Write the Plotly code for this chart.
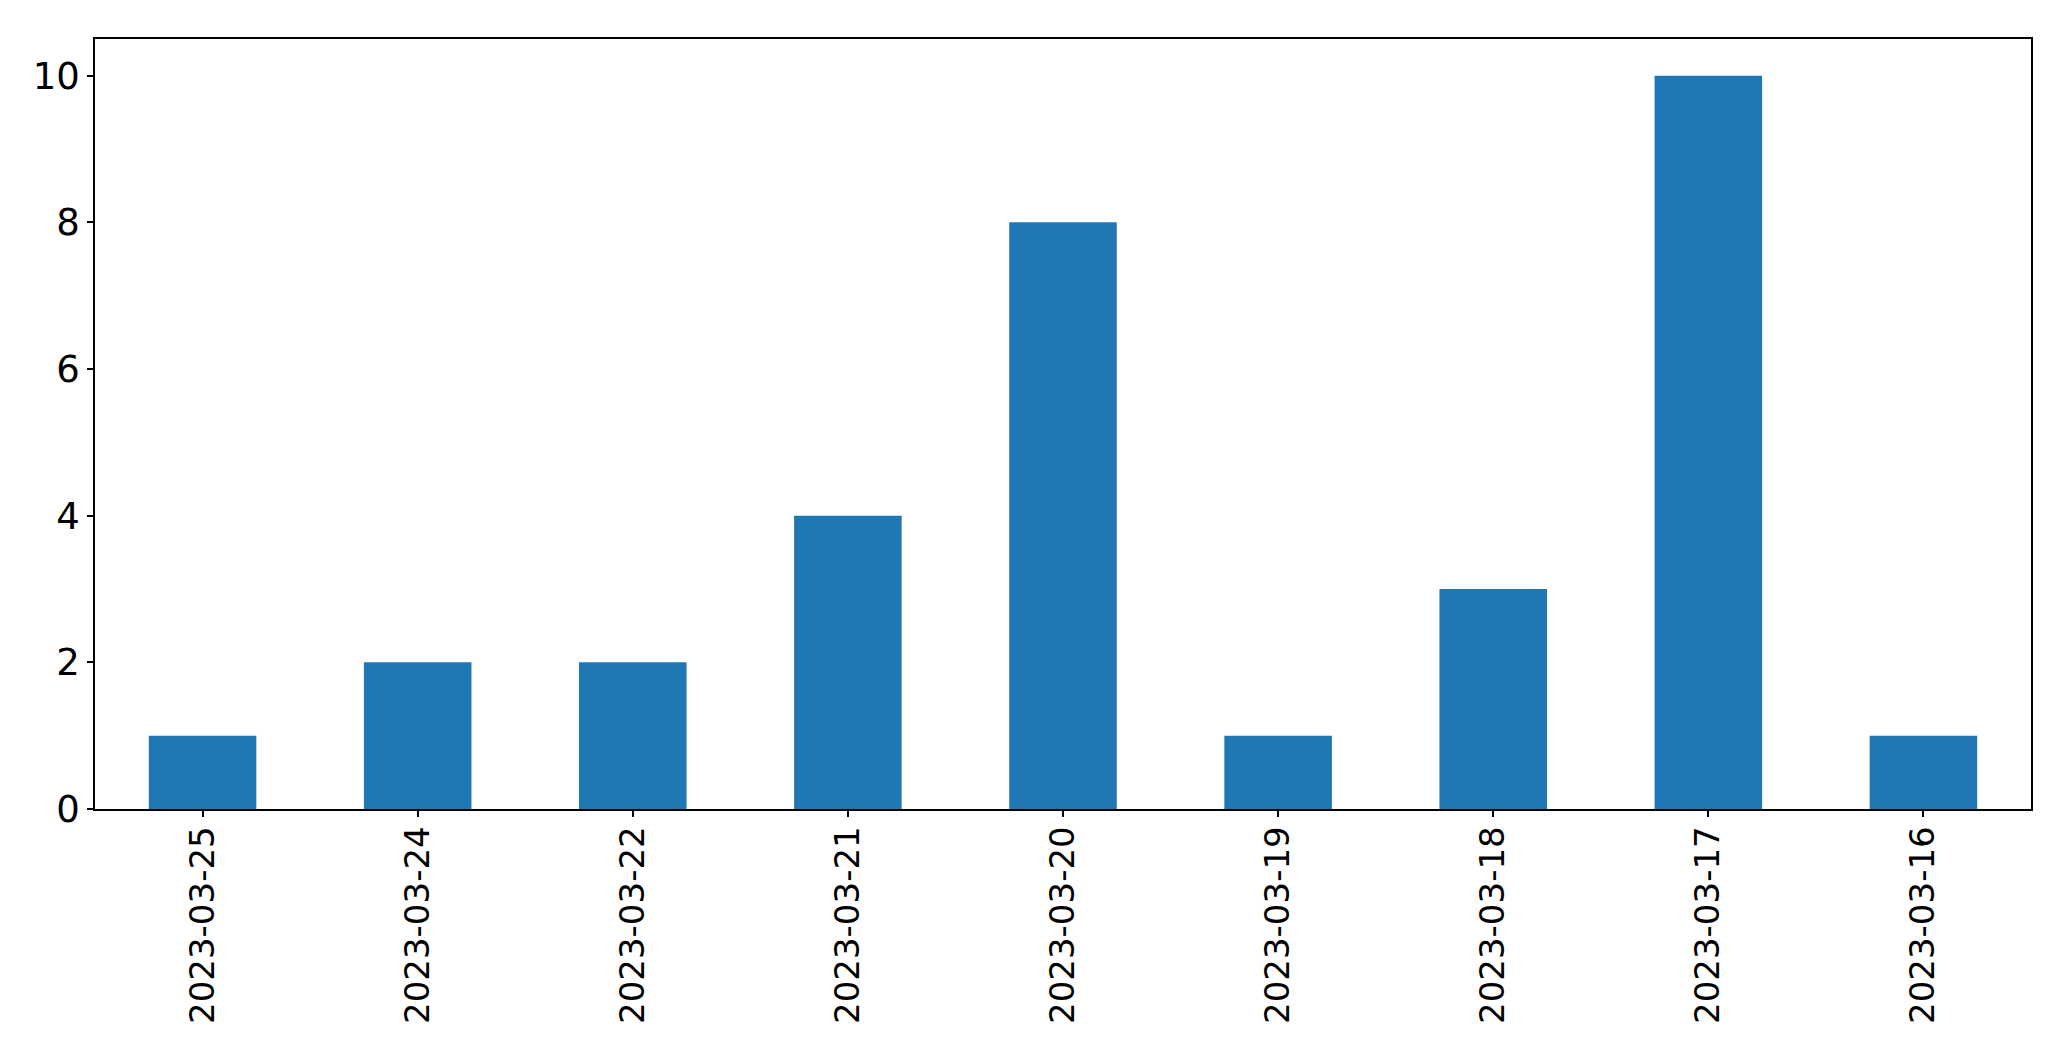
import plotly.graph_objects as go

dates = ["2023-03-25", "2023-03-24", "2023-03-22", "2023-03-21", "2023-03-20",
         "2023-03-19", "2023-03-18", "2023-03-17", "2023-03-16"]
counts = [1, 2, 2, 4, 8, 1, 3, 10, 1]

fig = go.Figure(go.Bar(x=dates, y=counts, marker_color="#1f77b4", width=0.5,
                       marker_line_width=0))

fig.update_layout(
    template="none",
    width=2071, height=1061,
    margin=dict(l=95, r=40, t=39, b=252, pad=0),
    paper_bgcolor="white", plot_bgcolor="white",
    font=dict(family="DejaVu Sans", size=34, color="black"),
    showlegend=False,
)
fig.update_xaxes(type="category", range=[-0.5, 8.5], tickangle=-90,
                 automargin=False, ticklabelstandoff=-4,
                 showline=True, linecolor="black", linewidth=1.5, mirror=True,
                 ticks="outside", ticklen=6, tickwidth=1.5, tickcolor="black",
                 showgrid=False, tickfont=dict(size=34))
fig.update_yaxes(range=[0, 10.5], tickvals=[0, 2, 4, 6, 8, 10],
                 automargin=False,
                 showline=True, linecolor="black", linewidth=1.5, mirror=True,
                 ticks="outside", ticklen=6, tickwidth=1.5, tickcolor="black",
                 showgrid=False, zeroline=False, tickfont=dict(size=37))

fig.write_html("out.html",
               config={"displayModeBar": False},
               post_script="document.body.style.margin='0';"
                           "document.body.style.overflow='hidden';")
